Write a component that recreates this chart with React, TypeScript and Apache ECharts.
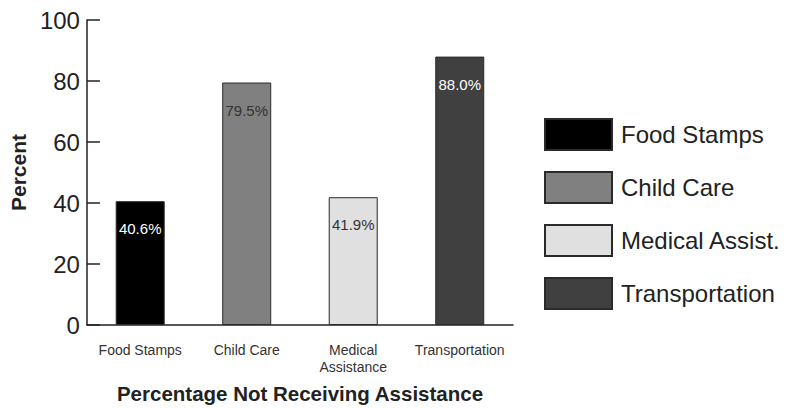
import React, { useEffect, useRef } from "react";
import * as echarts from "echarts";

const categories = ["Food Stamps", "Child Care", "Medical\nAssistance", "Transportation"];
const legendNames = ["Food Stamps", "Child Care", "Medical Assist.", "Transportation"];
const values = [40.6, 79.5, 41.9, 88.0];
const fills = ["#000000", "#808080", "#e0e0e0", "#404040"];
const labelColors = ["#ffffff", "#333333", "#333333", "#ffffff"];
const yTicks = { min: 0, max: 100, interval: 20 };

const FONT = "'Liberation Sans', Arial, Helvetica, sans-serif";

export default function App() {
  const ref = useRef<HTMLDivElement>(null);

  useEffect(() => {
    if (!ref.current) return;
    const chart = echarts.init(ref.current, undefined, { renderer: "svg" });

    // one series per program so each bar gets its own legend entry;
    // barGap -100% keeps them centred on their own category
    const series = legendNames.map((name, i) => ({
      name,
      type: "bar" as const,
      barWidth: 49,
      barGap: "-100%",
      data: values.map((v, j) => (j === i ? v : null)),
      itemStyle: { color: fills[i], borderColor: "#2a2a2a", borderWidth: 1 },
      label: {
        show: true,
        position: "insideTop" as const,
        distance: 20,
        fontFamily: FONT,
        fontSize: 15,
        color: labelColors[i],
        formatter: (p: any) => `${Number(p.value).toFixed(1)}%`,
      },
    }));

    chart.setOption({
      animation: false,
      backgroundColor: "#ffffff",
      textStyle: { fontFamily: FONT },
      grid: { left: 80, right: 272, top: 20, bottom: 81, containLabel: false },
      legend: {
        data: legendNames,
        orient: "vertical",
        left: 539,
        top: 113,
        itemWidth: 67,
        itemHeight: 31,
        itemGap: 20,
        icon: "rect",
        textStyle: { fontFamily: FONT, fontSize: 24, color: "#222222", padding: [0, 0, 0, 4] },
      },
      xAxis: {
        type: "category",
        data: categories,
        name: "Percentage Not Receiving Assistance",
        nameLocation: "middle",
        nameGap: 58,
        nameTextStyle: { fontFamily: FONT, fontSize: 20.5, fontWeight: "bold", color: "#222222" },
        axisLine: { lineStyle: { color: "#222222", width: 1.5 } },
        axisTick: { inside: true, length: 6, lineStyle: { color: "#222222", width: 1.5 } },
        axisLabel: {
          fontFamily: FONT,
          fontSize: 14,
          color: "#333333",
          margin: 16,
          lineHeight: 17,
          interval: 0,
        },
      },
      yAxis: {
        type: "value",
        min: yTicks.min,
        max: yTicks.max,
        interval: yTicks.interval,
        name: "Percent",
        nameLocation: "middle",
        nameGap: 52,
        nameRotate: 90,
        nameTextStyle: { fontFamily: FONT, fontSize: 21, fontWeight: "bold", color: "#222222" },
        axisLine: { show: true, lineStyle: { color: "#222222", width: 1.5 } },
        axisTick: { show: true, inside: true, length: 13, lineStyle: { color: "#222222", width: 1.5 } },
        axisLabel: { fontFamily: FONT, fontSize: 24, color: "#222222", margin: 7 },
        splitLine: { show: false },
      },
      series,
    });

    return () => chart.dispose();
  }, []);

  return (
    <div
      ref={ref}
      style={{ position: "fixed", left: 0, top: 0, width: 785, height: 409, background: "#fff" }}
    />
  );
}
